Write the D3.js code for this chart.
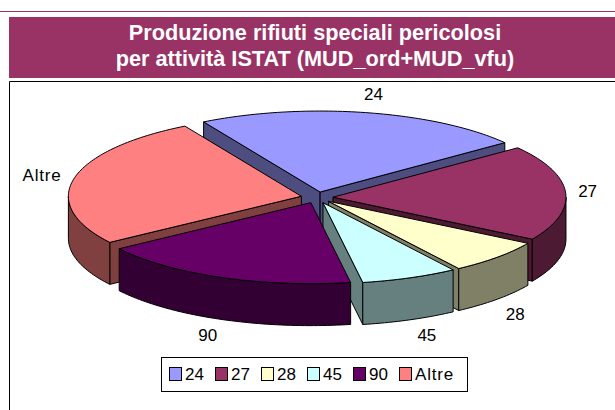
<!DOCTYPE html>
<html>
<head>
<meta charset="utf-8">
<script src="https://cdn.jsdelivr.net/npm/d3@7"></script>
<style>
  html, body { margin: 0; padding: 0; background: #fff; overflow: hidden; }
  text { font-family: "Liberation Sans", Arial, sans-serif; }
</style>
</head>
<body>
<div id="chart"></div>
<script>
// values are shares, the picture has no numbers
const categories = ['24', '27', '28', '45', '90', 'Altre']
const shares = [22.9, 19.1, 6.9, 6.7, 18.1, 26.3]
const topColors = ['#9999ff', '#993366', '#ffffcc', '#ccffff', '#660066', '#ff8080']
const wallColors = ['#4d4d80', '#4d1a33', '#808066', '#668080', '#330033', '#804040']
const titleLines = ['Produzione rifiuti speciali pericolosi', 'per attività ISTAT (MUD_ord+MUD_vfu)']

const width = 615
const height = 410
const cx = 317
const cy = 197.5
const rx = 233
const ry = 81
const depth = 42
const explode = 16
const startAngle = -30 * Math.PI / 180

// painter order, back slices first
const drawOrder = ['24', 'Altre', '27', '28', '45', '90']
// label nudge from the slice rim
const labelNudge = { '24': [8, -19], '27': [22, -2], '28': [18, 15], '45': [17, 15], '90': [-13, 16], 'Altre': [-32, -4] }

const svg = d3.select('#chart').append('svg')
  .attr('width', width)
  .attr('height', height)

svg.append('rect').attr('width', width).attr('height', height).attr('fill', '#fff')

// header
svg.append('line')
  .attr('x1', 0).attr('x2', width)
  .attr('y1', 11.5).attr('y2', 11.5)
  .attr('stroke', '#993366')

svg.append('rect')
  .attr('x', 9).attr('y', 17)
  .attr('width', width - 9).attr('height', 61)
  .attr('fill', '#993366')

svg.selectAll('.title')
  .data(titleLines)
  .join('text')
  .attr('class', 'title')
  .attr('x', 315)
  .attr('y', (d, i) => 40 + i * 26)
  .attr('text-anchor', 'middle')
  .attr('fill', '#fff')
  .attr('font-size', '21.7px')
  .attr('font-weight', 'bold')
  .text(d => d)

// plot frame, open at the right and bottom
svg.append('path')
  .attr('d', `M9.5,${height} V81.5 H${width}`)
  .attr('fill', 'none')
  .attr('stroke', '#000')

const pie = d3.pie()
  .sort(null)
  .value((d, i) => shares[i])
  .startAngle(startAngle)
  .endAngle(startAngle + 2 * Math.PI)

const slices = pie(categories).map((s, i) => {
  const mid = (s.startAngle + s.endAngle) / 2
  return {
    name: categories[i],
    top: topColors[i],
    wall: wallColors[i],
    a0: s.startAngle,
    a1: s.endAngle,
    mid,
    ox: cx + explode * Math.sin(mid),
    oy: cy - explode * (ry / rx) * Math.cos(mid),
  }
})

const rim = (s, t) => [s.ox + rx * Math.sin(t), s.oy - ry * Math.cos(t)]
const down = p => [p[0], p[1] + depth]
const line = d3.line()

function arcPoints(s, a0, a1) {
  const n = Math.max(2, Math.ceil((a1 - a0) / 0.02))
  return d3.range(n + 1).map(k => rim(s, a0 + (a1 - a0) * k / n))
}

// outer wall only shows on the front half of the ellipse
function frontParts(s) {
  const parts = []
  const turn = 2 * Math.PI
  ;[[Math.PI / 2, 1.5 * Math.PI], [Math.PI / 2 + turn, 1.5 * Math.PI + turn]].forEach(([lo, hi]) => {
    const a0 = Math.max(s.a0, lo)
    const a1 = Math.min(s.a1, hi)
    if (a1 > a0) parts.push([a0, a1])
  })
  return parts
}

const ordered = drawOrder.map(n => slices.find(s => s.name === n))

const groups = svg.selectAll('.slice')
  .data(ordered)
  .join('g')
  .attr('class', 'slice')
  .attr('stroke', '#000')
  .attr('stroke-width', 1)
  .attr('stroke-linejoin', 'round')

groups.each(function (s) {
  const g = d3.select(this)
  const apex = [s.ox, s.oy]

  const walls = []
  if (Math.sin(s.a0) < 0) walls.push(s.a0)
  if (Math.sin(s.a1) > 0) walls.push(s.a1)
  walls.forEach(t => {
    const p = rim(s, t)
    g.append('path')
      .attr('d', line([apex, p, down(p), down(apex)]) + 'Z')
      .attr('fill', s.wall)
  })

  frontParts(s).forEach(([a0, a1]) => {
    const pts = arcPoints(s, a0, a1)
    g.append('path')
      .attr('d', line(pts.concat(pts.map(down).reverse())) + 'Z')
      .attr('fill', s.wall)
  })

  g.append('path')
    .attr('d', line([apex].concat(arcPoints(s, s.a0, s.a1))) + 'Z')
    .attr('fill', s.top)
})

// slice labels
svg.selectAll('.label')
  .data(slices)
  .join('text')
  .attr('class', 'label')
  .attr('x', s => rim(s, s.mid)[0] + labelNudge[s.name][0])
  .attr('y', s => {
    const front = Math.cos(s.mid) < -0.3
    return rim(s, s.mid)[1] + (front ? depth : 0) + labelNudge[s.name][1] + 6
  })
  .attr('text-anchor', 'middle')
  .attr('fill', '#000')
  .attr('font-size', '17px')
  .attr('letter-spacing', s => s.name === 'Altre' ? '0.8px' : null)
  .text(s => s.name)

// legend
svg.append('rect')
  .attr('x', 161.5).attr('y', 357.5)
  .attr('width', 306).attr('height', 34)
  .attr('fill', '#fff')
  .attr('stroke', '#000')

const legendX = d3.scalePoint().domain(categories).range([169, 399])

const legend = svg.selectAll('.legend-item')
  .data(slices)
  .join('g')
  .attr('class', 'legend-item')
  .attr('transform', s => `translate(${legendX(s.name)},367)`)

legend.append('rect')
  .attr('x', 0.5).attr('y', 0.5)
  .attr('width', 12).attr('height', 13)
  .attr('fill', s => s.top)
  .attr('stroke', '#000')

legend.append('text')
  .attr('x', 16)
  .attr('y', 13)
  .attr('fill', '#000')
  .attr('font-size', '17px')
  .attr('letter-spacing', s => s.name === 'Altre' ? '0.8px' : null)
  .text(s => s.name)
</script>
</body>
</html>
